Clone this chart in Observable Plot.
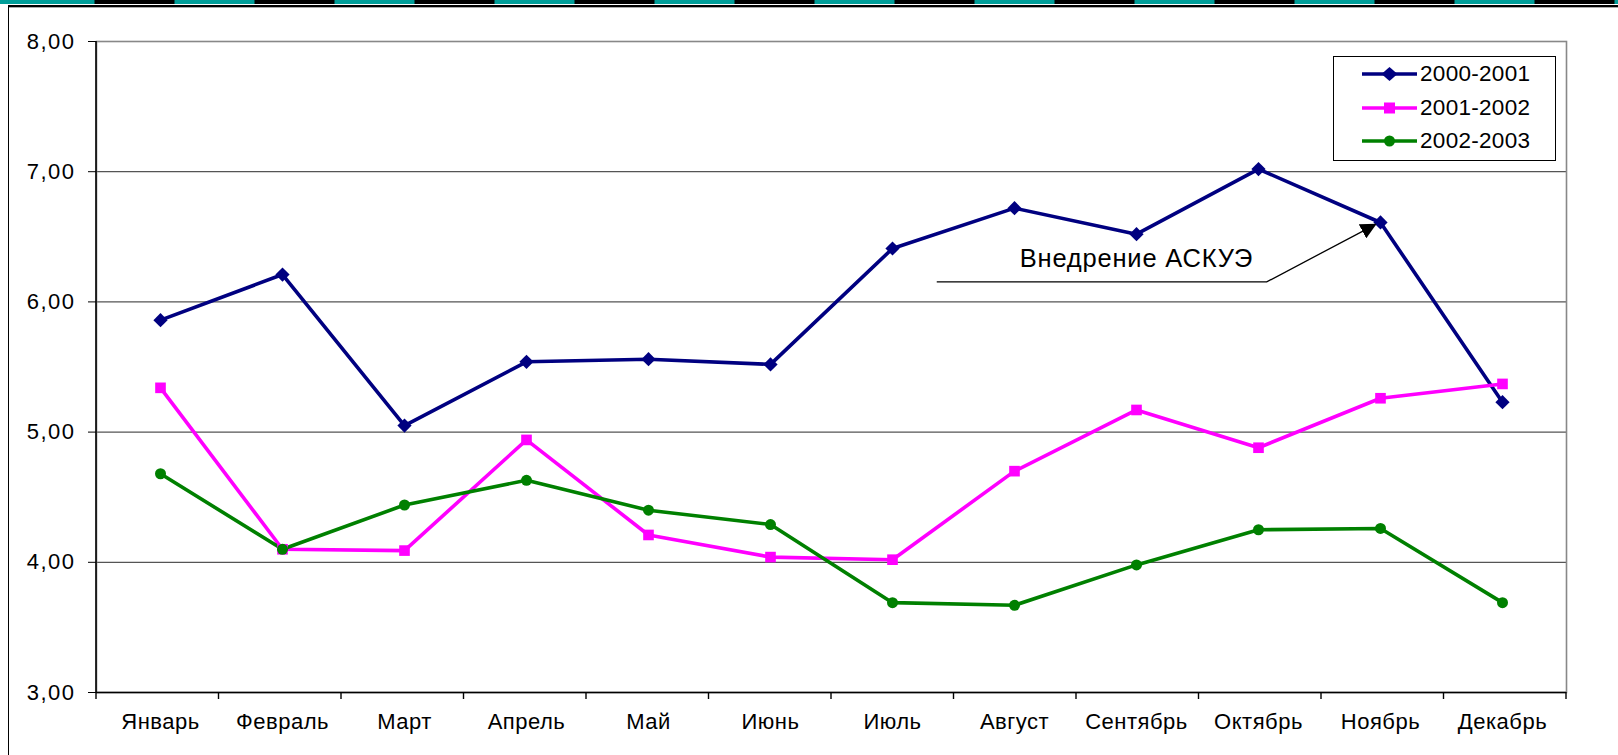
<!DOCTYPE html>
<html><head><meta charset="utf-8">
<script src="https://cdn.jsdelivr.net/npm/d3@7"></script>
<script src="https://cdn.jsdelivr.net/npm/@observablehq/plot@0.6"></script>
<style>
html,body{margin:0;padding:0;background:#fff;width:1618px;height:755px;overflow:hidden;font-family:"Liberation Sans",Arial,sans-serif;}
#wrap{position:relative;width:1618px;height:755px;}
#stripe{position:absolute;left:0;top:0;width:1618px;height:4px;background:repeating-linear-gradient(90deg,#009E99 0 80px,#000 80px 160px);background-position:14.5px 0;}
#topline{position:absolute;left:8px;top:5px;width:1610px;height:1.5px;background:#000;}
#topline2{position:absolute;left:8px;top:7px;width:1610px;height:1px;background:#aaa;}
#leftline{position:absolute;left:7.5px;top:5px;width:1.5px;height:750px;background:#000;}
#chart{position:absolute;left:0;top:0;}
#legend{position:absolute;left:1333px;top:56px;width:221px;height:103px;border:1px solid #000;background:#fff;}
.li{position:absolute;left:0;height:30px;display:flex;align-items:center;font-size:22.5px;letter-spacing:0.3px;}
.li svg{margin-left:28px;margin-right:3px;}
</style></head>
<body><div id="wrap"><div id="stripe"></div><div id="topline"></div><div id="topline2"></div><div id="leftline"></div><div id="chart"></div><div id="legend"></div></div>
<script>
const months = ["Январь","Февраль","Март","Апрель","Май","Июнь","Июль","Август","Сентябрь","Октябрь","Ноябрь","Декабрь"];
const seriesNames = ["2000-2001","2001-2002","2002-2003"];
const s2000 = [5.86,6.21,5.05,5.54,5.56,5.52,6.41,6.72,6.52,7.02,6.61,5.23];
const s2001 = [5.34,4.10,4.09,4.94,4.21,4.04,4.02,4.70,5.17,4.88,5.26,5.37];
const s2002 = [4.68,4.10,4.44,4.63,4.40,4.29,3.69,3.67,3.98,4.25,4.26,3.69];
const colors = ["#000080","#FF00FF","#008000"];
const symbols = ["diamond2","square","circle"];
const yTicks = [3,4,5,6,7,8];
const annotationText = "Внедрение АСКУЭ";

const allSeries = [s2000,s2001,s2002];
const data = allSeries.flatMap((arr,k)=>arr.map((v,i)=>({m:months[i], v, s:seriesNames[k]})));
const fmt = d => d.toFixed(2).replace(".", ",");

const W=1618,H=755,ML=96,MR=52,MT=41,MB=63;
const plot = Plot.plot({
  width:W,height:H,marginLeft:ML,marginRight:MR,marginTop:MT,marginBottom:MB,
  style:{fontFamily:"Liberation Sans, Arial, sans-serif",fontSize:"21px",color:"#000",background:"transparent",overflow:"visible"},
  x:{type:"band",domain:months,padding:0,label:null},
  y:{domain:[3,8],label:null},
  color:{domain:seriesNames,range:colors},
  symbol:{domain:seriesNames,range:symbols},
  marks:[
    Plot.gridY(yTicks,{stroke:"#555",strokeOpacity:1,strokeWidth:1.2}),
    Plot.frame({stroke:"#888",strokeWidth:1.6}),
    Plot.axisY(yTicks,{tickSize:8,tickPadding:13,tickFormat:fmt,stroke:"#000",fontSize:22,label:null}),
    Plot.axisX({tickSize:0,tickPadding:21,fontSize:22,label:null}),
    Plot.ruleY([3],{stroke:"#000",strokeWidth:1.6}),
    ...seriesNames.map((s)=>Plot.line(data.filter(d=>d.s===s),{x:"m",y:"v",stroke:"s",strokeWidth:3.6})),
    Plot.dot(data.filter(d=>d.s===seriesNames[0]),{x:"m",y:"v",fill:"s",symbol:"s",r:6.4,stroke:null}),
    Plot.dot(data.filter(d=>d.s===seriesNames[1]),{x:"m",y:"v",fill:"s",symbol:"s",r:6.0,stroke:null}),
    Plot.dot(data.filter(d=>d.s===seriesNames[2]),{x:"m",y:"v",fill:"s",symbol:"s",r:5.5,stroke:null}),
    Plot.text([annotationText],{x:()=>"Сентябрь",y:()=>6.33,text:d=>d,fontSize:25.5,fill:"#000"})
  ]
});
document.getElementById("chart").appendChild(plot);

const svg = d3.select(plot);
svg.selectAll('g[aria-label="y-axis tick label"] text').style("letter-spacing","1.5px");
svg.selectAll('g[aria-label="x-axis tick label"] text').style("letter-spacing","0.5px");
svg.selectAll('g[aria-label="text"] text').style("letter-spacing","0.8px");

// extra axis details drawn from the plot's scales
const sx = plot.scale("x"), sy = plot.scale("y");
const xb = d3.scaleBand(sx.domain, sx.range).padding(0);
const ys = d3.scaleLinear(sy.domain, sy.range);
const bw = xb.bandwidth();
const g = svg.append("g");
// left axis line
g.append("line").attr("x1",xb.range()[0]).attr("x2",xb.range()[0]).attr("y1",ys(8)).attr("y2",ys(3)).attr("stroke","#000").attr("stroke-width",1.6);
// category boundary ticks
const bounds = months.map(m=>xb(m)).concat([xb(months[months.length-1])+bw]);
g.selectAll(".bt").data(bounds).join("line").attr("x1",d=>d).attr("x2",d=>d).attr("y1",ys(3)).attr("y2",ys(3)+7).attr("stroke","#000").attr("stroke-width",1.4);
// annotation leader + arrow
const c = m => xb(m)+bw/2;
const pStart=[c("Август")-78, ys(6.15)], pBend=[c("Октябрь")+7, ys(6.15)], pTip=[c("Ноябрь")-7, ys(6.59)];
svg.append("defs").html('<marker id="ah" viewBox="0 0 10 10" refX="9" refY="5" markerWidth="16" markerHeight="16" markerUnits="userSpaceOnUse" orient="auto"><path d="M0,0 L10,5 L0,10 z" fill="#000"/></marker>');
g.append("path").attr("d",`M${pStart}L${pBend}L${pTip}`).attr("fill","none").attr("stroke","#000").attr("stroke-width",1.3).attr("marker-end","url(#ah)");

// legend
const leg = document.getElementById("legend");
const centers=[17,51,84];
seriesNames.forEach((s,i)=>{
  const d=document.createElement("div"); d.className="li"; d.style.top=(centers[i]-15)+"px";
  const col=colors[i];
  let sym;
  if(i===0) sym=`<path d="M27.5,6 L35.5,13 L27.5,20 L19.5,13z" fill="${col}"/>`;
  else if(i===1) sym=`<rect x="22" y="7.5" width="11" height="11" fill="${col}"/>`;
  else sym=`<circle cx="27.5" cy="13" r="5.5" fill="${col}"/>`;
  d.innerHTML=`<svg width="55" height="26"><line x1="0" x2="55" y1="13" y2="13" stroke="${col}" stroke-width="3.5"/>${sym}</svg><span>${s}</span>`;
  leg.appendChild(d);
});
</script>
</body></html>
